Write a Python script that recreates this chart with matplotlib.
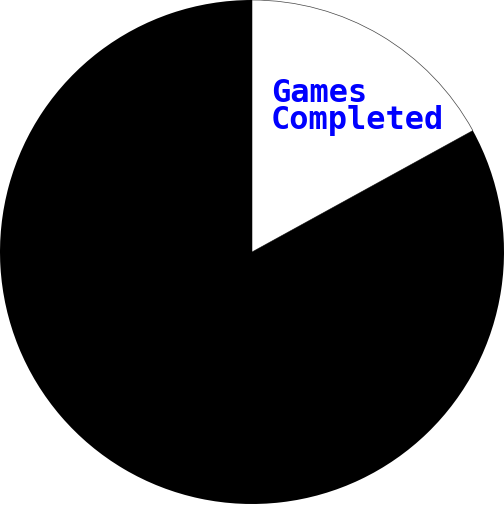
import matplotlib
matplotlib.use("Agg")
from matplotlib import pyplot as plt

# pie values (percent)
labels = ["Games Completed", "Not Completed"]
values = [17, 83]
colors = ["white", "black"]

fig = plt.figure(figsize=(5.04, 5.06), dpi=100)
ax = fig.add_axes([0, 0, 1, 1])
wedges, _ = ax.pie(values, colors=colors, startangle=90, counterclock=False,
                   radius=1, wedgeprops=dict(linewidth=0))
# faint outline on the white slice
wedges[0].set_edgecolor("#444444")
wedges[0].set_linewidth(0.5)
ax.set_xlim(-1, 1)
ax.set_ylim(-253 / 252, 253 / 252)
ax.set_aspect("equal")
ax.axis("off")

# label inside the white slice
ax.text(0.075, 0.695, "Games\nCompleted", color="#0000ff", fontsize=23,
        family="DejaVu Sans Mono", weight="bold", ha="left", va="top",
        linespacing=0.85)

fig.savefig("out.png", dpi=100)
